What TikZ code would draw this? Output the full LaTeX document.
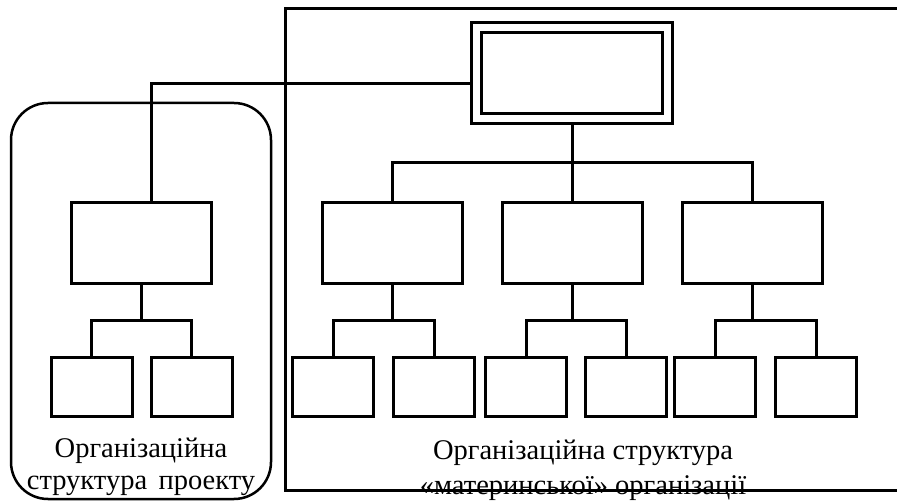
\documentclass[tikz,border=0pt]{standalone}
\usepackage{fontspec}
\setmainfont{Liberation Serif}
\usetikzlibrary{positioning,calc}
\tikzset{block/.style={draw,line width=3pt,minimum width=140pt,minimum height=81pt,inner sep=0pt,outer sep=0pt},
         small/.style={draw,line width=3pt,minimum width=81pt,minimum height=59pt,inner sep=0pt,outer sep=0pt},
         line/.style={line width=3pt}
}
\tikzstyle{frame} = [line width=3pt]
\tikzstyle{caption} = [align=center,inner sep=0pt,font=\fontsize{28.5}{32}\selectfont]

\begin{document}
\begin{tikzpicture}[x=1pt,y=-1pt]
\useasboundingbox (0,0) rectangle (897,502);

\draw[frame] (897,9) -- (285,9) -- (285,490) -- (897,490);
\draw[frame,line width=2.5pt,rounded corners=37pt] (11,103) rectangle (271,499);

\node[block,minimum width=191pt,minimum height=90.5pt,double,double distance=7pt,outer sep=5pt] (head) at (572,73.25) {};
\node[block] (dept2) at (572,243.5) {};
\node[block,left=40pt of dept2] (dept1) {};
\node[block,right=40pt of dept2] (dept3) {};
\node[block] (proj) at (141.5,243.5) {};

\node[small] (projA) at (91.5,387.5) {};
\node[small,right=19pt of projA] (projB) {};
\node[small] (unitA) at (333,387.5) {};
\node[small,right=20pt of unitA] (unitB) {};
\node[small] (unitC) at (526,387.5) {};
\node[small,right=19pt of unitC] (unitD) {};
\node[small] (unitE) at (715,387.5) {};
\node[small,right=20pt of unitE] (unitF) {};

\node[caption] (projtext) at (141,467) {Організаційна\\структура\hspace{0.4em}проекту};
\node[caption,font=\fontsize{28.5}{35}\selectfont] (orgtext) at (583,470) {Організаційна структура\\«материнської» організації};

\coordinate (bus) at (572,163);
\draw[line] (head.south) -- (bus);
\draw[line] (dept1.north) |- (bus) -| (dept3.north);
\draw[line] (bus) -- (dept2.north);
\draw[line] ([yshift=-10pt]head.west) -| ([xshift=9.5pt]proj.north);

\foreach \p/\a/\b in {proj/projA/projB,dept1/unitA/unitB,dept2/unitC/unitD,dept3/unitE/unitF}{
  \coordinate (m) at ($(\p.south)!.5!(\a.north)$);
  \draw[line] (\a.north) |- (m) -| (\b.north);
  \draw[line] (\p.south) -- (\p.south |- m);
}

\end{tikzpicture}
\end{document}
